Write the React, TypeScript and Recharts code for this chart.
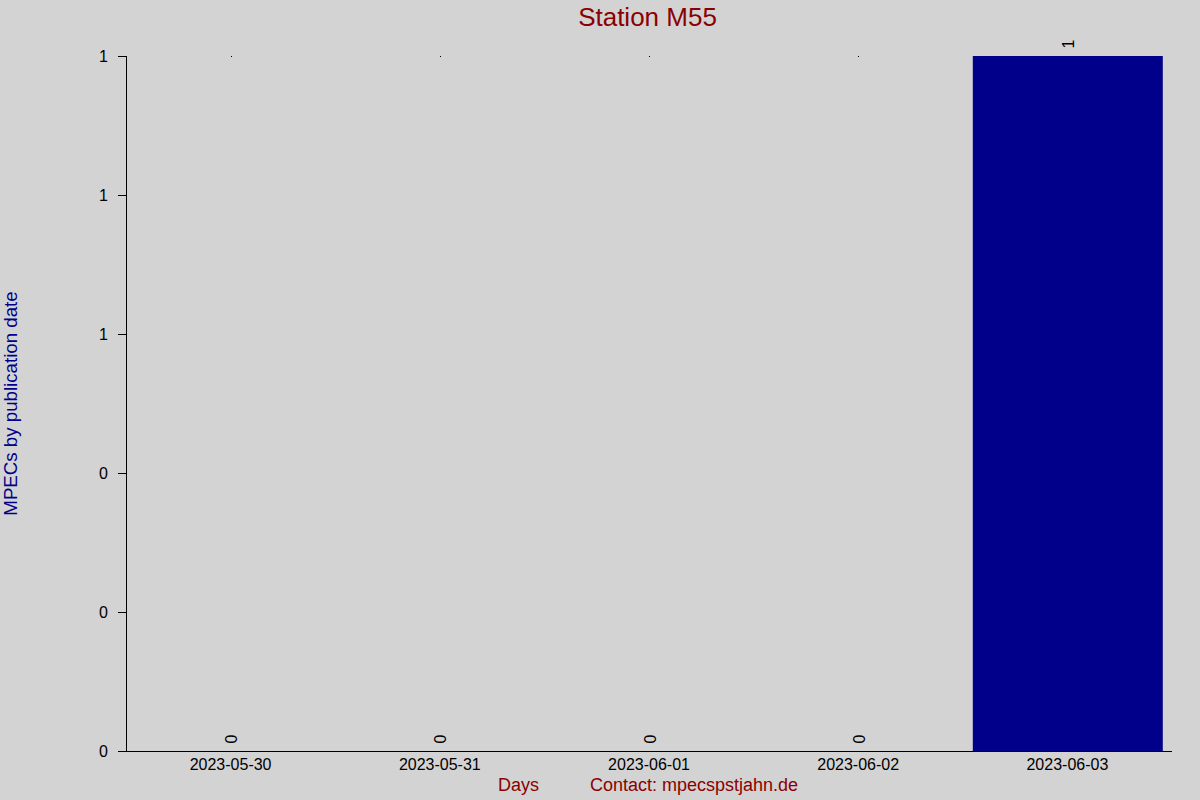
import React from "react";
import { ComposedChart, Bar, Line, XAxis, YAxis, LabelList } from "recharts";

const days = ["2023-05-30", "2023-05-31", "2023-06-01", "2023-06-02", "2023-06-03"];
const counts = [0, 0, 0, 0, 1];
const yTicks = [0, 0.2, 0.4, 0.6, 0.8, 1];

const data = days.map((d, i) => ({ day: d, count: counts[i] }));

const FONT = "'Liberation Sans', Arial, sans-serif";

const ValueLabel = (props: any) => {
  const { x, y, value } = props;
  const cx = Number(x) + 1;
  const cy = Number(y) - 12;
  return (
    <g>
      <text
        x={cx}
        y={cy}
        transform={`rotate(-90, ${cx}, ${cy})`}
        textAnchor="middle"
        dominantBaseline="central"
        fontFamily={FONT}
        fontSize={16}
        fill="#000"
      >
        {String(value)}
      </text>
      {Number(value) === 0 ? (
        <rect x={Math.round(cx) - 1} y={56} width={1} height={1} fill="#000" shapeRendering="crispEdges" />
      ) : null}
    </g>
  );
};

export default function App() {
  return (
    <div
      style={{
        position: "fixed",
        left: 0,
        top: 0,
        width: 1200,
        height: 800,
        background: "#d3d3d3",
        fontFamily: FONT,
      }}
    >
      <ComposedChart
        width={1200}
        height={800}
        data={data}
        margin={{ top: 56, right: 28, bottom: 0, left: 0 }}
      >
        <XAxis
          dataKey="day"
          height={49}
          tickLine={false}
          axisLine={{ stroke: "#000", shapeRendering: "crispEdges" }}
          tick={{ fill: "#000", fontSize: 16, fontFamily: FONT }}
          interval={0}
        />
        <YAxis
          width={126}
          domain={[0, 1]}
          ticks={yTicks}
          tickFormatter={(v: number) => String(Math.round(v))}
          tickSize={8}
          tickMargin={10}
          axisLine={{ stroke: "#000", shapeRendering: "crispEdges" }}
          tickLine={{ stroke: "#000", shapeRendering: "crispEdges" }}
          tick={{ fill: "#000", fontSize: 16, fontFamily: FONT }}
        />
        <Bar dataKey="count" fill="#00008b" barSize={190} isAnimationActive={false} />
        <Line
          dataKey="count"
          stroke="none"
          dot={false}
          activeDot={false}
          legendType="none"
          isAnimationActive={false}
        >
          <LabelList dataKey="count" content={ValueLabel} />
        </Line>
      </ComposedChart>
      <svg
        width={1200}
        height={800}
        style={{ position: "absolute", left: 0, top: 0, pointerEvents: "none" }}
      >
        <text x={647.5} y={26} textAnchor="middle" fontFamily={FONT} fontSize={26} fill="#8b0000">
          Station M55
        </text>
        <text
          x={10.5}
          y={403.5}
          transform="rotate(-90, 10.5, 403.5)"
          textAnchor="middle"
          dominantBaseline="central"
          fontFamily={FONT}
          fontSize={18.7}
          fill="#00008b"
        >
          MPECs by publication date
        </text>
        <text x={498} y={791} fontFamily={FONT} fontSize={18} fill="#8b0000">
          Days
        </text>
        <text x={590} y={791} fontFamily={FONT} fontSize={18} fill="#8b0000">
          Contact: mpecspstjahn.de
        </text>
      </svg>
    </div>
  );
}
